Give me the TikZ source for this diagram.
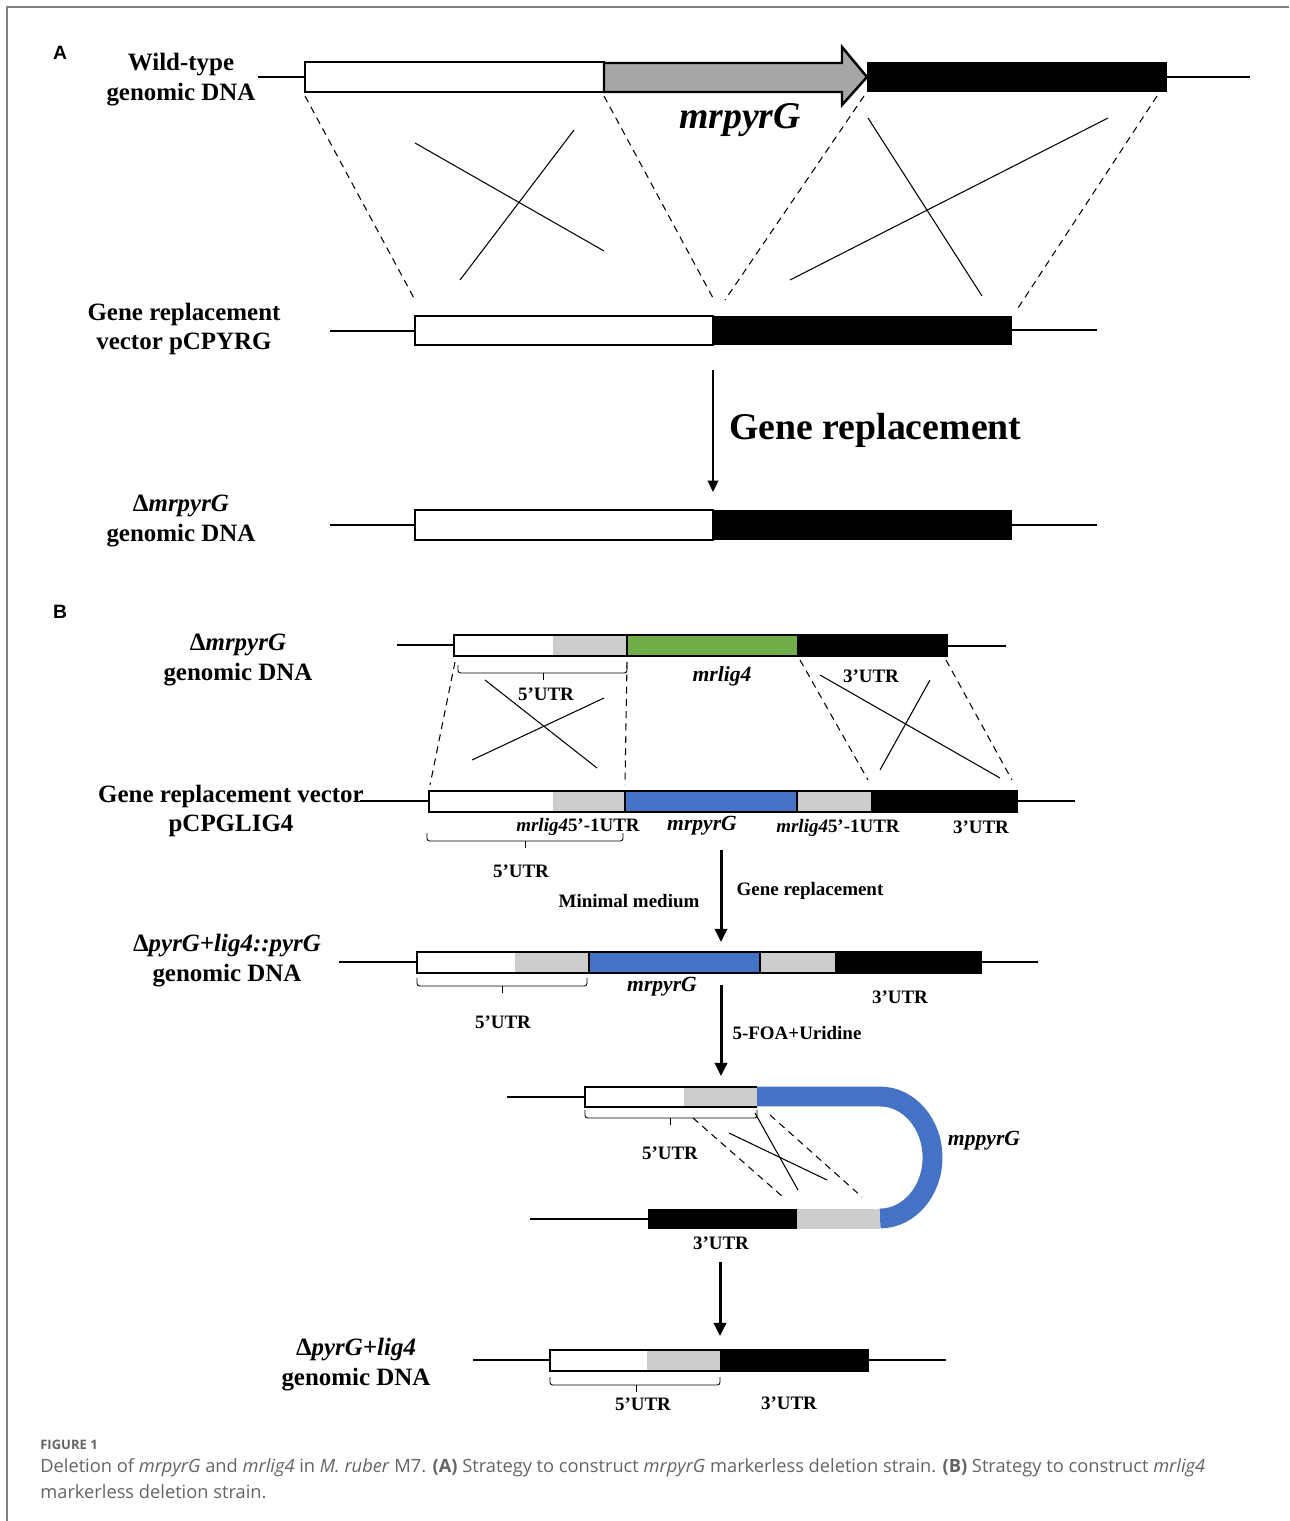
\documentclass[tikz,border=0pt]{standalone}
\usepackage{fontspec}
\setmainfont{Liberation Serif}
\newfontfamily\panelfont{Liberation Sans}
\newfontfamily\capfont{Open Sans}
\usetikzlibrary{arrows.meta}
\definecolor{genegray}  {RGB}{204, 204, 204}
\definecolor{arrowgray} {RGB}{166, 166, 166}
\definecolor{geneblue}  {RGB}{68, 114, 196}
\definecolor{genegreen} {RGB}{112, 173, 71}
\definecolor{captiongray}{RGB}{100, 100, 100}
\tikzset{
  % DNA backbone and segment outlines
  dna/.style={line width=1.4pt, line cap=butt},
  outline/.style={draw=black, line width=1.4pt},
  % crossover and homology lines
  cross/.style={line width=0.6pt},
  homology/.style={line width=0.6pt, dash pattern=on 4pt off 3pt},
  utr/.style={line width=0.5pt, rounded corners=1.5pt},
  % arrows
  arrA/.style={-{Triangle[length=6.5pt, width=6pt]}, line width=1.1pt},
  arrB/.style={-{Triangle[length=7.5pt, width=7pt]}, line width=1.7pt},
  % text
  lbl/.style={font=\fontsize{14.2pt}{17pt}\selectfont\bfseries, align=center, inner sep=0pt},
  big/.style={font=\fontsize{21.5pt}{25pt}\selectfont\bfseries, inner sep=0pt},
  sml/.style={font=\fontsize{10.8pt}{13pt}\selectfont\bfseries, inner sep=0pt},
  gname/.style={font=\fontsize{12.3pt}{15pt}\selectfont\bfseries\itshape, inner sep=0pt},
  panel/.style={font=\panelfont\fontsize{11pt}{13pt}\selectfont\bfseries, inner sep=0pt},
}
% bracket under the 5'UTR region: x1, x2, top y, middle x
\newcommand{\utrbracket}[4]{%
  \draw[utr] (#1,#3) -- (#1,#3+8) -- (#2,#3+8) -- (#2,#3);
  \draw[utr] (#4,#3+8) -- (#4,#3+15);
}

\begin{document}
\begin{tikzpicture}[x=0.02cm, y=-0.02cm]
  \useasboundingbox (0,0) rectangle (1289,1521);
  \draw[gray, line width=0.8pt] (7,1521) -- (7,7) -- (1289,7);

  %% ---------------- panel A ----------------
  \node[panel] (pA) at (60,53) {A};

  % wild-type locus
  \node[lbl] (wtlabel) at (181,80) {Wild-type\\genomic DNA};
  \draw[dna] (258,77) -- (305,77);
  \draw[dna] (1167,77) -- (1250,77);
  \filldraw[fill=white, outline] (305,62) rectangle (604,92);
  \filldraw[fill=arrowgray, outline] (604,63) -- (842,63) -- (842,47) -- (867,77)
    -- (842,105) -- (842,92) -- (604,92) -- cycle;
  \fill (867,62) rectangle (1167,92);
  \node[big, font=\fontsize{21.5pt}{25pt}\selectfont\bfseries\itshape] (pyrgA) at (740,120) {mrpyrG};

  % homologous regions
  \draw[homology] (305,96) -- (415,300);
  \draw[homology] (604,96) -- (713,298);
  \draw[homology] (864,96) -- (725,300);
  \draw[homology] (1157,96) -- (1018,308);
  \draw[cross] (415,143) -- (604,251);
  \draw[cross] (574,130) -- (460,280);
  \draw[cross] (868,118) -- (982,296);
  \draw[cross] (1108,118) -- (790,280);

  % replacement vector
  \node[lbl] (veclabel) at (184,329) {Gene replacement\\vector pCPYRG};
  \draw[dna] (330,331) -- (415,331);
  \draw[dna] (1012,330) -- (1097,330);
  \filldraw[fill=white, outline] (415,316) rectangle (713,345);
  \fill (713,316) rectangle (1012,345);

  \coordinate (rA1) at (713,370);
  \coordinate (rA2) at (713,492);
  \draw[arrA] (rA1) -- (rA2);
  \node[big, anchor=west] (replA) at (729,430) {Gene replacement};

  % deletion locus
  \node[lbl] (dellabel) at (181,521) {Δ\textit{mrpyrG}\\genomic DNA};
  \draw[dna] (330,525) -- (415,525);
  \draw[dna] (1012,525) -- (1097,525);
  \filldraw[fill=white, outline] (415,510) rectangle (713,540);
  \fill (713,510) rectangle (1012,540);

  %% ---------------- panel B ----------------
  \node[panel] (pB) at (60,612) {B};

  % row 1: deletion locus with mrlig4
  \node[lbl] (b1label) at (238,660) {Δ\textit{mrpyrG}\\genomic DNA};
  \draw[dna] (397,645) -- (454,645);
  \draw[dna] (947,646) -- (1006,646);
  \foreach \xa/\xb/\col in {454/553/white, 553/627/genegray, 627/798/genegreen, 798/947/black}
    \fill[\col] (\xa,635) rectangle (\xb,656);
  \draw[outline] (454,635) rectangle (947,656);
  \draw[outline] (627,635) rectangle (798,656);
  \utrbracket{458}{627}{665}{543}
  \node[sml] (b1utr5) at (546,694) {5’UTR};
  \node[gname] (b1lig) at (722,676) {mrlig4};
  \node[sml] (b1utr3) at (871,676) {3’UTR};

  \draw[homology] (455,662) -- (430,785);
  \draw[homology] (627,662) -- (625,785);
  \draw[homology] (800,660) -- (868,780);
  \draw[homology] (946,660) -- (1012,780);
  \draw[cross] (485,680) -- (597,768);
  \draw[cross] (604,698) -- (472,760);
  \draw[cross] (820,675) -- (1000,778);
  \draw[cross] (930,680) -- (880,770);

  % row 2: vector pCPGLIG4
  \node[lbl] (b2label) at (231,811) {Gene replacement vector\\pCPGLIG4};
  \draw[dna] (360,801) -- (429,801);
  \draw[dna] (1017,801) -- (1075,801);
  \foreach \xa/\xb/\col in {429/553/white, 553/625/genegray, 625/797/geneblue, 797/871/genegray, 871/1017/black}
    \fill[\col] (\xa,791) rectangle (\xb,812);
  \draw[outline] (429,791) rectangle (1017,812);
  \draw[outline] (625,791) rectangle (797,812);
  \node[sml] (b2lig5a) at (578,827) {\textit{mrlig4}5’-1UTR};
  \node[gname] (b2pyr) at (702,826) {mrpyrG};
  \node[sml] (b2lig5b) at (838,828) {\textit{mrlig4}5’-1UTR};
  \node[sml] (b2utr3) at (981,827) {3’UTR};
  \utrbracket{427}{623}{833}{525}
  \node[sml] (b2utr5) at (521,871) {5’UTR};

  \coordinate (rB1) at (721,850);
  \coordinate (rB2) at (721,942);
  \draw[arrB] (rB1) -- (rB2);
  \node[sml] (replB) at (810,891) {Gene replacement};
  \node[sml] (medium) at (629,901) {Minimal medium};

  % row 3: integrated locus
  \node[lbl] (b3label) at (227,961) {Δ\textit{pyrG+lig4::pyrG}\\genomic DNA};
  \draw[dna] (339,962) -- (417,962);
  \draw[dna] (981,962) -- (1038,962);
  \foreach \xa/\xb/\col in {417/515/white, 515/589/genegray, 589/760/geneblue, 760/835/genegray, 835/981/black}
    \fill[\col] (\xa,952) rectangle (\xb,973);
  \draw[outline] (417,952) rectangle (981,973);
  \draw[outline] (589,952) rectangle (760,973);
  \utrbracket{417}{587}{978}{502}
  \node[sml] (b3utr5) at (503,1022) {5’UTR};
  \node[gname] (b3pyr) at (662,987) {mrpyrG};
  \node[sml] (b3utr3) at (900,997) {3’UTR};

  \coordinate (rC1) at (721,985);
  \coordinate (rC2) at (721,1076);
  \draw[arrB] (rC1) -- (rC2);
  \node[sml] (foa) at (797,1033) {5-FOA+Uridine};

  % row 4: loop-out of the marker
  \draw[dna] (507,1097) -- (585,1097);
  \fill[white] (585,1087) rectangle (684,1107);
  \fill[genegray] (684,1087) rectangle (757,1107);
  \draw[outline] (757,1087) -- (585,1087) -- (585,1107) -- (757,1107);
  \draw[geneblue, line width=11.3pt] (757,1096.5) -- (880,1096.5)
    arc[start angle=90, end angle=-90, x radius=1.05cm, y radius=1.22cm];
  \draw[dna] (530,1219) -- (648,1219);
  \fill (648,1209) rectangle (797,1229);
  \fill[genegray] (797,1209) rectangle (880,1229);
  \node[gname] (b4pyr) at (984,1141) {mppyrG};
  \utrbracket{585}{757}{1110}{670}
  \node[sml] (b4utr5) at (670,1153) {5’UTR};
  \draw[homology] (693,1118) -- (783,1197);
  \draw[homology] (770,1115) -- (862,1197);
  \draw[cross] (755,1113) -- (798,1190);
  \draw[cross] (729,1133) -- (827,1180);
  \node[sml] (b4utr3) at (721,1243) {3’UTR};

  \coordinate (rD1) at (720,1262);
  \coordinate (rD2) at (720,1336);
  \draw[arrB] (rD1) -- (rD2);

  % row 5: markerless deletion
  \node[lbl] (b5label) at (356,1365) {Δ\textit{pyrG+lig4}\\genomic DNA};
  \draw[dna] (473,1360) -- (550,1360);
  \draw[dna] (868,1360) -- (946,1360);
  \foreach \xa/\xb/\col in {550/647/white, 647/720/genegray, 720/868/black}
    \fill[\col] (\xa,1350) rectangle (\xb,1371);
  \draw[outline] (550,1350) rectangle (868,1371);
  \utrbracket{550}{720}{1377}{636}
  \node[sml] (b5utr5) at (643,1404) {5’UTR};
  \node[sml] (b5utr3) at (789,1403) {3’UTR};

  %% ---------------- caption ----------------
  \node[anchor=west, inner sep=0pt, text=captiongray, font=\capfont\fontsize{7.4pt}{9pt}\selectfont\bfseries]
    (figno) at (40,1445) {FIGURE 1};
  \node[anchor=west, inner sep=0pt, text=captiongray, font=\capfont\fontsize{10.4pt}{12pt}\selectfont]
    (cap1) at (40,1468) {Deletion of \textit{mrpyrG} and \textit{mrlig4} in \textit{M. ruber} M7. \textbf{(A)} Strategy to construct \textit{mrpyrG} markerless deletion strain. \textbf{(B)} Strategy to construct \textit{mrlig4}};
  \node[anchor=west, inner sep=0pt, text=captiongray, font=\capfont\fontsize{10.4pt}{12pt}\selectfont]
    (cap2) at (40,1492) {markerless deletion strain.};
\end{tikzpicture}
\end{document}
